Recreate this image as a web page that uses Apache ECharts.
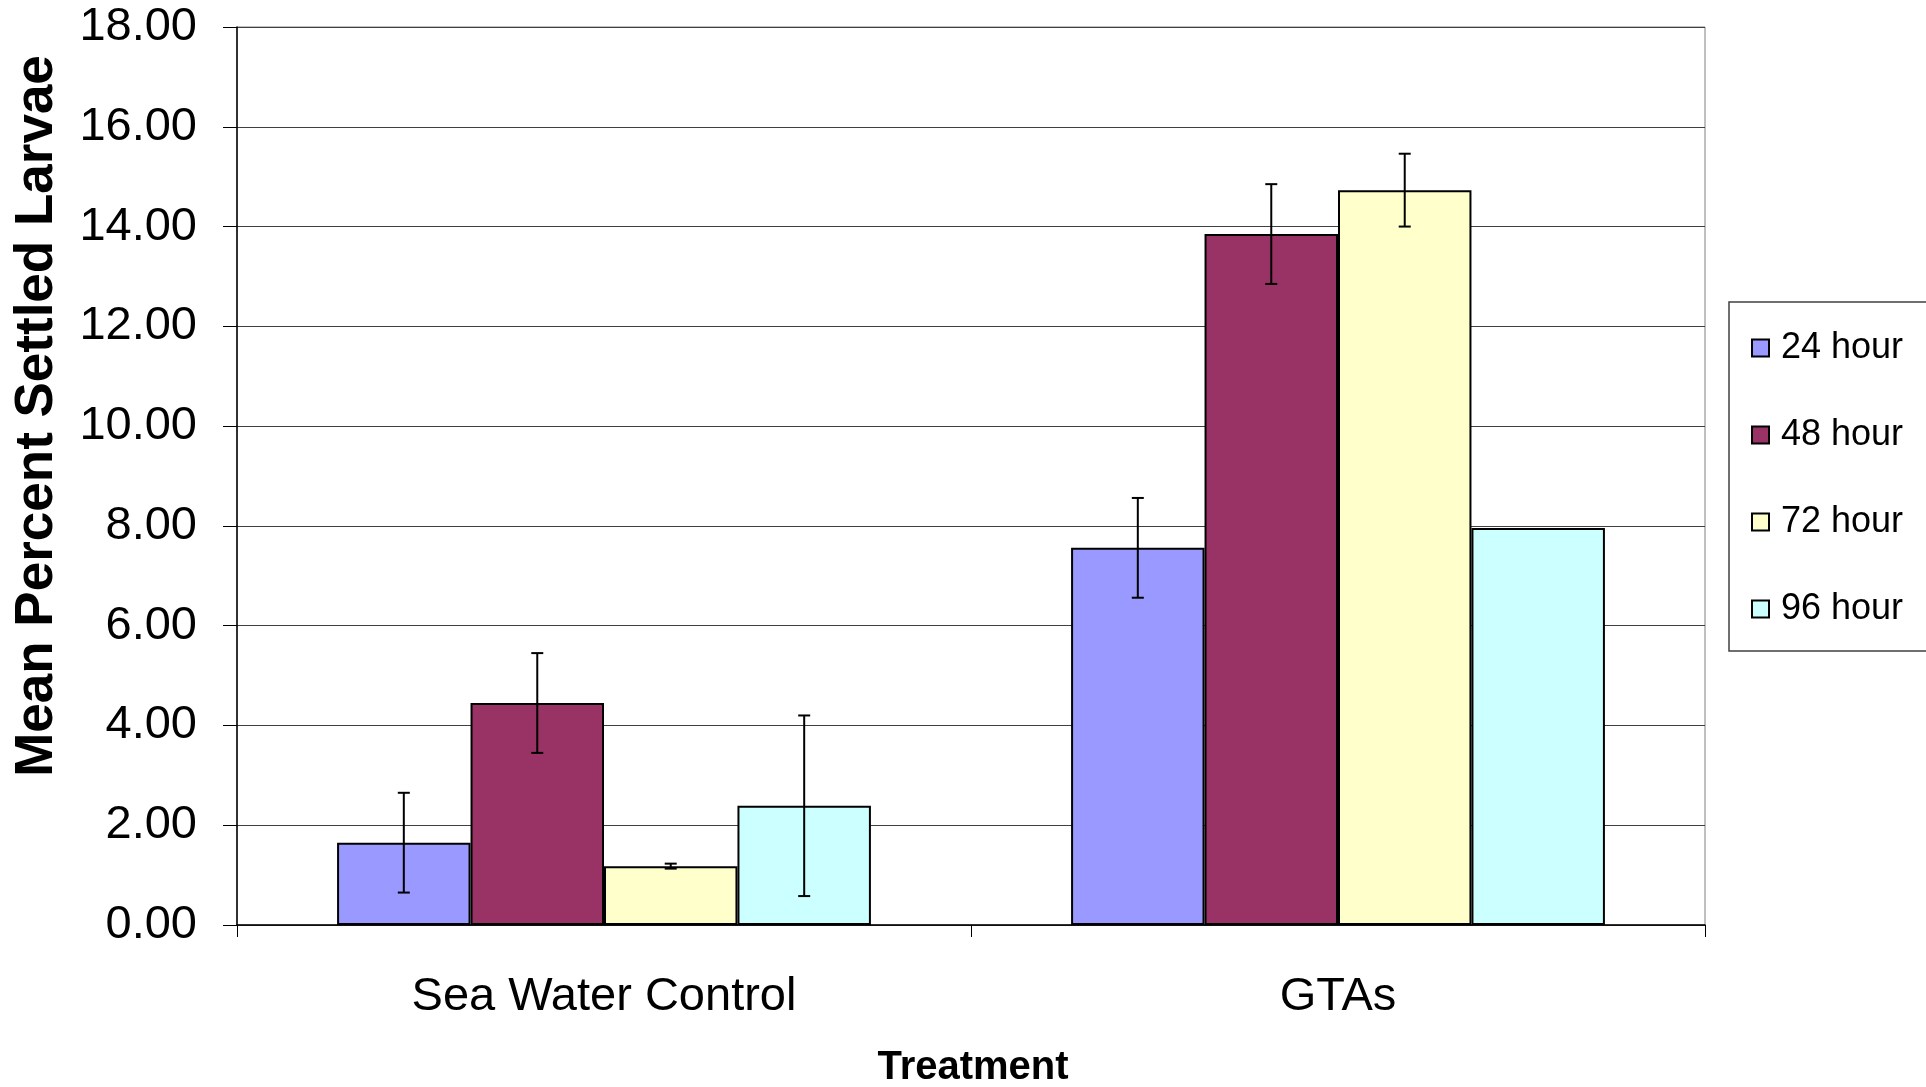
<!DOCTYPE html>
<html>
<head>
<meta charset="utf-8">
<script src="https://cdn.jsdelivr.net/npm/echarts@6/dist/echarts.min.js"></script>
<style>html,body{margin:0;padding:0;background:#fff}#c{width:1926px;height:1087px}</style>
</head>
<body>
<div id="c"></div>
<script>
const categories = ['Sea Water Control', 'GTAs'];
const seriesNames = ['24 hour', '48 hour', '72 hour', '96 hour'];
const values24 = [1.65, 7.56];
const values48 = [4.45, 13.85];
const values72 = [1.18, 14.73];
const values96 = [2.39, 7.96];
const err24 = [1.0, 1.0];
const err48 = [1.0, 1.0];
const err72 = [0.05, 0.73];
const err96 = [1.81, 0];
const colors = ['#9999FF', '#993366', '#FFFFCC', '#CCFFFF'];
const yTicks = { min: 0, max: 18, interval: 2 };

const FONT = "'Liberation Sans', Arial, sans-serif";
const values = [values24, values48, values72, values96];
const errs = [err24, err48, err72, err96];
const CAT_GAP = 0.2727;

const chart = echarts.init(document.getElementById('c'));

const barSeries = seriesNames.map((n, i) => ({
  name: n,
  type: 'bar',
  data: values[i],
  barGap: '0%',
  barCategoryGap: (CAT_GAP * 100) + '%',
  itemStyle: { color: colors[i], borderColor: '#000', borderWidth: 2 },
  emphasis: { disabled: true },
  z: 2
}));

const errSeries = seriesNames.map((n, i) => ({
  type: 'custom',
  data: values[i].map((v, j) => [j, v, errs[i][j]]),
  z: 5,
  silent: true,
  renderItem: function (params, api) {
    const cat = api.value(0), v = api.value(1), e = api.value(2);
    if (!e) return null;
    const band = api.size([1, 0])[0];
    const bw = band * (1 - CAT_GAP) / 4;
    const c = api.coord([cat, v]);
    const x = c[0] + (i - 1.5) * bw;
    const top = api.coord([cat, v + e])[1];
    const bot = api.coord([cat, v - e])[1];
    const hw = 6;
    const st = { stroke: '#000', lineWidth: 2 };
    return {
      type: 'group',
      children: [
        { type: 'line', shape: { x1: x, y1: top, x2: x, y2: bot }, style: st },
        { type: 'line', shape: { x1: x - hw, y1: top, x2: x + hw, y2: top }, style: st },
        { type: 'line', shape: { x1: x - hw, y1: bot, x2: x + hw, y2: bot }, style: st }
      ]
    };
  }
}));

chart.setOption({
  animation: false,
  backgroundColor: '#fff',
  textStyle: { fontFamily: FONT },
  grid: { left: 237, right: 221, top: 27, bottom: 162, show: true, borderColor: '#808080', borderWidth: 1 },
  legend: {
    orient: 'vertical',
    left: 1746,
    top: 323,
    itemWidth: 17,
    itemHeight: 17,
    itemGap: 47,
    icon: 'rect',
    selectedMode: false,
    data: seriesNames,
    textStyle: { fontFamily: FONT, fontSize: 36, color: '#000', lineHeight: 40, padding: [0, 0, 0, 7] }
  },
  xAxis: {
    type: 'category',
    data: categories,
    axisLine: { lineStyle: { color: '#000', width: 1.5 } },
    axisTick: { show: true, length: 12, lineStyle: { color: '#000' } },
    axisLabel: { fontFamily: FONT, fontSize: 47, color: '#000', margin: 49 },
    splitLine: { show: false }
  },
  yAxis: {
    type: 'value',
    min: yTicks.min, max: yTicks.max, interval: yTicks.interval,
    axisLine: { show: true, lineStyle: { color: '#000', width: 1.5 } },
    axisTick: { show: true, length: 14, lineStyle: { color: '#000' } },
    axisLabel: { fontFamily: FONT, fontSize: 47, color: '#000', margin: 40, formatter: v => v.toFixed(2) },
    splitLine: { show: true, lineStyle: { color: '#404040', width: 1 } }
  },
  graphic: [
    { type: 'rect', z: -1, shape: { x: 1729, y: 302, width: 300, height: 349 }, style: { fill: 'none', stroke: '#404040', lineWidth: 1.5 } },
    { type: 'text', x: 37, y: 416, rotation: Math.PI / 2, style: { text: 'Mean Percent Settled Larvae', font: "bold 53px 'Liberation Sans', Arial, sans-serif", fill: '#000', textAlign: 'center', textVerticalAlign: 'middle' } },
    { type: 'text', x: 973, y: 1068, style: { text: 'Treatment', font: "bold 40px 'Liberation Sans', Arial, sans-serif", fill: '#000', textAlign: 'center', textVerticalAlign: 'middle' } }
  ],
  series: barSeries.concat(errSeries)
});
</script>
</body>
</html>
